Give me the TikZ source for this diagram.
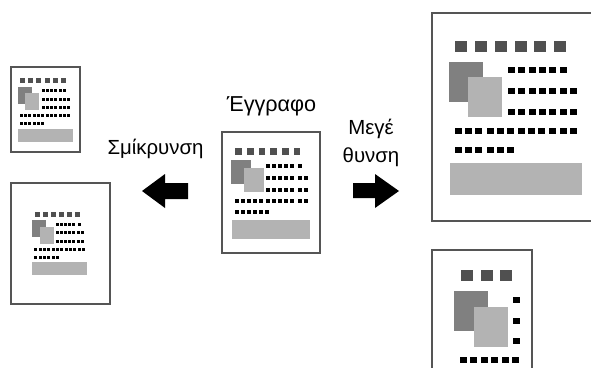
\documentclass[tikz,border=0pt]{standalone}
\usepackage{fontspec}
\setmainfont{Liberation Sans}
\definecolor{framegray}{HTML}{555555}
\definecolor{headgray}{HTML}{505050}
\definecolor{darkbox}{HTML}{808080}
\definecolor{lightbox}{HTML}{B3B3B3}
\tikzset{
  pageframe/.style={draw=framegray,line width=2pt,fill=white},
  headsq/.style={fill=headgray},
  darkrect/.style={fill=darkbox},
  lightrect/.style={fill=lightbox},
  txt/.style={font=\fontsize{20.4}{24}\selectfont,text=black,inner sep=0pt,anchor=base},
  txtwide/.style={font=\fontsize{21.6}{24}\selectfont,text=black,inner sep=0pt,anchor=base},
  bigarrow/.style={fill=black}
}
% #1 top y, #2 height, #3 width, #4 list of left x
\newcommand\dotrow[4]{\foreach \xx in {#4}{\fill[black] (\xx,#1) rectangle ++(#3,#2);}}
\newcommand\headrow[4]{\foreach \xx in {#4}{\fill[headsq] (\xx,#1) rectangle ++(#3,#2);}}
\begin{document}
\begin{tikzpicture}[x=1pt,y=-1pt]
\useasboundingbox (0,0) rectangle (591,367);
\clip (0,0) rectangle (591,367);

% top small page
\draw[pageframe] (11,67) rectangle (79.5,152);
\headrow{78}{5}{5}{20,28,36,45,53,61}
\fill[darkrect] (18,87) rectangle (32,104);
\fill[lightrect] (25,93) rectangle (39,110);
\fill[lightrect] (18,129) rectangle (73,142);
\dotrow{89}{3}{3}{42,46,50,54,59,63}
\dotrow{98}{3}{3}{42,46,50,54,59,63,67}
\dotrow{106}{3}{3}{42,46,50,54,59,63,67}
\dotrow{114}{3}{3}{20,24,28,33,37,41,46,50,54,59,63,67}
\dotrow{122}{3}{3}{20,24,28,33,37,41}

% lower small page
\draw[pageframe] (11,182.5) rectangle (109.5,303.5);
\headrow{212}{5}{5}{35,43,51,59,67,75}
\fill[darkrect] (32,220) rectangle (46,237);
\fill[lightrect] (40,227) rectangle (54,244);
\fill[lightrect] (32,262) rectangle (87,275);
\dotrow{223}{3}{3}{56,60,64,68,72,78}
\dotrow{231}{3}{3}{56,60,64,68,72,77,81}
\dotrow{240}{3}{3}{56,60,64,68,72,77,81}
\dotrow{248}{3}{3}{34,39,43,47,52,56,60,65,69,73,78,82}
\dotrow{256}{3}{3}{34,39,43,47,52,56}

% centre page
\draw[pageframe] (221.5,132) rectangle (319.5,253);
\headrow{148}{7}{6.7}{235,247,258.7,270.3,282,293.7}
\fill[darkrect] (231,160) rectangle (251,184);
\fill[lightrect] (244,168) rectangle (264,192);
\fill[lightrect] (232,220) rectangle (310,239);
\dotrow{164}{4}{4}{266,272,278,284,290,298}
\dotrow{176}{4}{4}{266,272,278,284,290,298,304}
\dotrow{188}{4}{4}{266,272,278,284,290,298,304}
\dotrow{198.7}{4}{4}{235,241,247,253,259,266,272,278,284,290,298,304}
\dotrow{210}{4}{4}{235,241,247,253,259,265}

% large page, running off the right edge
\draw[pageframe] (432,13) rectangle (600,220.5);
\headrow{41}{11}{12}{455,475,495,515,534,554}
\fill[darkrect] (449,62) rectangle (483,102);
\fill[lightrect] (468,77) rectangle (502,117);
\fill[lightrect] (450,163) rectangle (582,195);
\dotrow{67}{6}{6.5}{508,518,529,539,549,560}
\dotrow{88.3}{6}{6.5}{508,518,529,539,549,560,570}
\dotrow{109}{6}{6.5}{508,518,529,539,549,560,570}
\dotrow{128}{6}{6.5}{455,465,475,487,497,507,518,528,538,549,560,570}
\dotrow{147}{6}{6.5}{455,465,475,487,497,507}

% cropped page, running off the bottom edge
\draw[pageframe] (432,250) rectangle (532,380);
\headrow{270}{11}{12}{461,481,500}
\fill[darkrect] (454,291) rectangle (488,331);
\fill[lightrect] (474,307) rectangle (508,347);
\dotrow{297}{6}{7}{513}
\dotrow{318}{6}{7}{513}
\dotrow{338}{6}{7}{513}
\dotrow{357}{6}{7}{460,470,481,491,502,512}

% arrows
\fill[bigarrow] (188,183) -- (165,183) -- (165,174) -- (142,191) -- (165,208) -- (165,199) -- (188,199) -- cycle;
\fill[bigarrow] (353,183) -- (375,183) -- (375,174) -- (399,191) -- (375,208) -- (375,198) -- (353,198) -- cycle;

% labels
\node[txtwide] (orig) at (271.5,111) {Έγγραφο};
\node[txt] (shrink) at (155.5,154) {Σμίκρυνση};
\node[txt] (enl1) at (371,134) {Μεγέ};
\node[txt] (enl2) at (371,162) {θυνση};
\end{tikzpicture}
\end{document}
